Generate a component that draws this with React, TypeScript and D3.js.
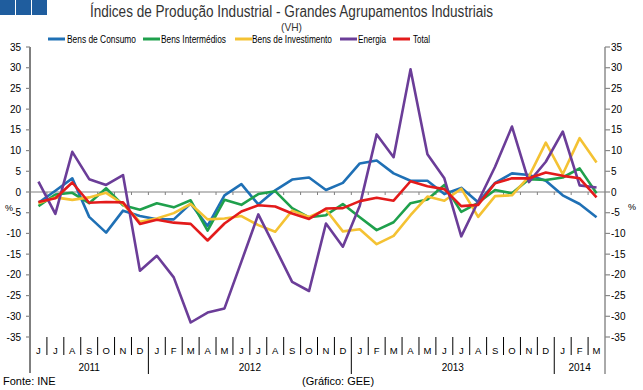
import React from 'react';
import * as d3 from 'd3';

const months = ['J','J','A','S','O','N','D','J','F','M','A','M','J','J','A','S','O','N','D','J','F','M','A','M','J','J','A','S','O','N','D','J','F','M'];
const years = ['2011','2012','2013','2014'];
const yearMonthCounts = [7,12,12,3];

const bensConsumo = [-2.6,0.3,3.3,-6.0,-9.8,-4.5,-5.8,-6.6,-6.6,-2.8,-8.2,-0.8,1.9,-3.0,0.4,3.0,3.5,0.5,2.2,6.9,7.6,4.5,2.7,2.7,-0.5,1.0,-2.5,2.2,4.5,4.1,2.7,-0.8,-2.9,-6.1];
const bensIntermedios = [-3.4,-0.6,-0.2,-2.7,0.9,-3.2,-4.3,-2.7,-3.7,-2.0,-9.3,-1.9,-3.1,-0.5,0.2,-3.9,-6.1,-5.6,-2.9,-6.1,-9.2,-7.3,-2.7,-1.8,1.7,-4.8,-2.6,0.5,-0.3,3.1,2.9,3.5,5.7,-0.3];
const bensInvestimento = [-2.7,-1.3,-1.9,-1.3,-0.2,-2.9,-7.2,-6.4,-5.1,-2.9,-6.6,-6.4,-5.8,-8.0,-9.6,-4.5,-6.0,-4.3,-9.5,-9.0,-12.6,-10.6,-5.6,-1.1,-2.1,0.8,-6.0,-1.0,-0.8,3.7,11.9,4.3,13.0,7.1];
const energia = [2.5,-5.3,9.7,3.1,1.7,4.1,-19.0,-15.4,-20.6,-31.5,-29.1,-28.1,-16.8,-5.4,-13.5,-21.7,-23.9,-7.6,-13.2,-3.3,13.9,8.4,29.6,9.1,3.3,-10.7,-2.3,6.1,15.8,2.4,7.3,14.6,1.6,1.1];
const total = [-2.4,-1.5,2.3,-2.6,-2.4,-2.5,-7.7,-6.7,-7.4,-7.7,-11.7,-7.6,-4.7,-3.2,-3.5,-5.2,-6.5,-4.0,-3.9,-2.2,-1.4,-2.1,2.6,1.4,0.7,-3.4,-3.1,2.1,3.3,3.3,4.7,3.9,3.3,-1.3];

const seriesNames = ['Bens de Consumo','Bens Intermédios','Bens de Investimento','Energia','Total'];
const seriesValues = [bensConsumo, bensIntermedios, bensInvestimento, energia, total];
const seriesColors = ['#1f70b5','#1fa04c','#f4c233','#6b3d98','#e31b1b'];
const yTicks = [-35,-30,-25,-20,-15,-10,-5,0,5,10,15,20,25,30,35];

const FONT = 'Liberation Sans, Arial, sans-serif';

export default function App() {
  const W = 643, H = 390;
  const left = 30, right = 605, top = 47, bottom = 337;
  const x = d3.scaleBand<number>().domain(months.map((_, i) => i)).range([left, right]);
  const bw = x.bandwidth();
  const y = d3.scaleLinear().domain([-35, 35]).range([bottom, top]);
  const line = d3.line<number>().x((_, i) => (x(i) as number) + bw / 2).y(d => y(d));

  // year boundaries
  const yearStarts: number[] = [];
  let acc = 0;
  yearMonthCounts.forEach(c => { yearStarts.push(acc); acc += c; });

  const legendLayout = [
    { lx: 48, tx: 67, tw: 69 },
    { lx: 143, tx: 161, tw: 65 },
    { lx: 235, tx: 252, tw: 80 },
    { lx: 340, tx: 358, tw: 28 },
    { lx: 393, tx: 413, tw: 17 },
  ];

  return (
    <svg width={W} height={H} style={{ position: 'absolute', left: 0, top: 0, background: '#fff' }} fontFamily={FONT}>
      <rect x={0} y={0} width={W} height={H} fill="#fff" />
      {/* logo squares */}
      {[0, 16, 32].map(sx => <rect key={sx} x={sx} y={0} width={15} height={15} fill="#1f5d9e" />)}
      {/* title */}
      <text x={90} y={17} fontSize={16} fill="#333" textLength={403} lengthAdjust="spacingAndGlyphs">Índices de Produção Industrial - Grandes Agrupamentos Industriais</text>
      <text x={281} y={31} fontSize={11} fill="#333" textLength={21} lengthAdjust="spacingAndGlyphs">(VH)</text>
      {/* legend */}
      {seriesNames.map((n, i) => (
        <g key={n}>
          <line x1={legendLayout[i].lx} x2={legendLayout[i].lx + 17} y1={39} y2={39} stroke={seriesColors[i]} strokeWidth={3} />
          <text x={legendLayout[i].tx} y={42.5} fontSize={10} fill="#000" textLength={legendLayout[i].tw} lengthAdjust="spacingAndGlyphs">{n}</text>
        </g>
      ))}
      {/* axes */}
      <line x1={left} x2={left} y1={top} y2={373} stroke="#000" strokeWidth={1} />
      <line x1={right} x2={right} y1={top} y2={374} stroke="#555" strokeWidth={1} />
      {yTicks.map(t => (
        <g key={t}>
          <line x1={left - 4} x2={left} y1={y(t)} y2={y(t)} stroke="#888" strokeWidth={1.2} />
          <line x1={right} x2={right + 5} y1={y(t)} y2={y(t)} stroke="#888" strokeWidth={1.2} />
          <text x={21} y={y(t) + 3.5} fontSize={10} textAnchor="end" fill="#000">{`${t}`}</text>
          <text x={611} y={y(t) + 3.5} fontSize={10} textAnchor="start" fill="#000">{`${t}`}</text>
        </g>
      ))}
      <text x={5} y={211} fontSize={9} fill="#000">%</text>
      <text x={628} y={210} fontSize={9} fill="#000">%</text>
      {/* zero line */}
      <line x1={left} x2={right} y1={y(0)} y2={y(0)} stroke="#808080" strokeWidth={1.2} />
      {months.map((_, i) => i > 0 ? (
        <line key={'zt' + i} x1={x(i) as number} x2={x(i) as number} y1={y(0)} y2={y(0) + 3} stroke="#808080" strokeWidth={1} />
      ) : null)}
      {/* series */}
      {seriesValues.map((vals, si) => (
        <path key={si} d={line(vals) || ''} fill="none" stroke={seriesColors[si]} strokeWidth={2.6} strokeLinejoin="round" />
      ))}
      {/* month labels & separators */}
      {months.map((m, i) => (
        <g key={'m' + i}>
          <text x={(x(i) as number) + bw / 2} y={353.5} fontSize={9.5} textAnchor="middle" fill="#000">{m}</text>
          {i > 0 && !yearStarts.includes(i) ? (
            <line x1={x(i) as number} x2={x(i) as number} y1={337} y2={355} stroke="#000" strokeWidth={1} />
          ) : null}
        </g>
      ))}
      {yearStarts.slice(1).map(s => (
        <line key={'ys' + s} x1={x(s) as number} x2={x(s) as number} y1={337} y2={374} stroke="#000" strokeWidth={1} />
      ))}
      {years.map((yr, k) => {
        const s = yearStarts[k];
        const e = s + yearMonthCounts[k];
        const cx = ((x(s) as number) + (x(e - 1) as number) + bw) / 2;
        return <text key={yr} x={cx} y={371} fontSize={10} textAnchor="middle" fill="#000">{yr}</text>;
      })}
      {/* footer */}
      <text x={3} y={385} fontSize={11} fill="#000">Fonte: INE</text>
      <text x={302} y={385} fontSize={11} fill="#000">(Gráfico: GEE)</text>
    </svg>
  );
}
